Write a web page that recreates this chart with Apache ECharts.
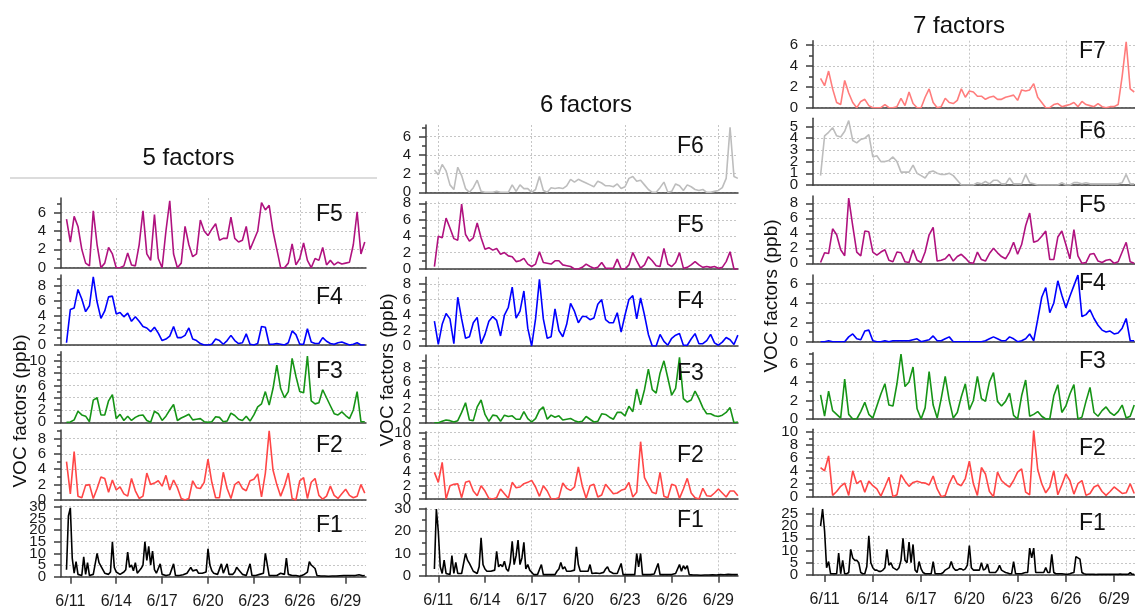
<!DOCTYPE html>
<html><head><meta charset="utf-8">
<script src="https://cdn.jsdelivr.net/npm/echarts@6/dist/echarts.min.js"></script>
<style>html,body{margin:0;padding:0;background:#fff}#c{width:1135px;height:612px}</style>
</head><body><div id="c"></div>
<script>
// ---------- data ----------
// time axis: days since 6/11 00:00; series start at 6/10 18:00
const seriesStartDay = -0.25;
const step6h = 0.25, step3h = 0.125;
const xTickDays = [0, 3, 6, 9, 12, 15, 18];
const xTickLabels = ['6/11', '6/14', '6/17', '6/20', '6/23', '6/26', '6/29'];
const colTitles = ['5 factors', '6 factors', '7 factors'];
const yAxisName = 'VOC factors (ppb)';

const ticksEven6 = [0, 2, 4, 6];
const ticksEven8 = [0, 2, 4, 6, 8];
const ticksEven10 = [0, 2, 4, 6, 8, 10];
const ticksUnit5 = [0, 1, 2, 3, 4, 5];
const ticksFive30 = [0, 5, 10, 15, 20, 25, 30];
const ticksFive25 = [0, 5, 10, 15, 20, 25];
const ticksTen30 = [0, 10, 20, 30];
const minorOdd = [1, 3, 5, 7, 9, 11];
const minorFives = [5, 15, 25];

// ---- 5 factors ----
const c1F5 = [5.3,2.8,5.6,4.5,2.0,0.5,0.2,6.2,2.5,0,
0.5,2.2,1.5,0,0,0.2,1.6,0.3,0.2,2.5,
6.2,1.5,0.8,5.8,1.0,0,4.0,7.3,1.5,0,
0.5,4.5,2.5,1.2,1.5,5.2,4.0,3.5,4.2,4.8,
3.0,3.2,3.2,5.5,3.2,2.8,3.0,4.5,2.0,3.0,
4.0,7.1,6.3,6.8,4.0,2.0,0,0,0.5,2.6,
0.3,1.0,2.7,0.8,0,1.0,0.8,2.2,0.3,0.8,
0.3,0.6,0.4,0.5,0.6,2.5,6.1,1.5,2.8];
const c1F4 = [0.3,4.8,5.0,7.5,6.2,4.5,5.3,9.2,5.8,3.6,
4.6,6.5,6.6,4.2,4.4,3.8,4.3,3.2,3.8,3.2,
2.5,2.3,1.8,2.4,1.6,0.6,0.8,1.2,2.5,1.0,
1.0,1.3,2.3,0.8,0.6,0.2,0,0,0.1,0.8,
0.6,0.1,0.6,1.3,0.6,0.2,0.3,1.5,0.1,0,
0.2,2.5,2.4,0.1,0.1,0.2,0.1,0,0.3,1.9,
1.4,0.1,0.1,2.2,0.4,0.2,0.2,1.0,0.5,0.2,
0.1,0.3,0.4,0.2,0,0.1,0.3,0,0];
const c1F3 = [0,0.05,0.4,1.8,1.2,1.0,0.1,3.6,4.0,1.2,
1.2,3.5,4.5,0.6,1.3,0.3,1.0,0.3,0.8,1.1,
1.2,0.3,0,1.8,1.4,0.3,1.0,2.0,2.9,0.3,
0.7,1.0,1.3,0.4,0.5,0.6,0.1,0,0.1,0.9,
0.8,0.1,0.2,1.5,1.1,0.5,0.3,1.0,0.2,1.2,
2.5,3.0,5.0,2.8,5.5,9.3,5.5,4.0,5.0,10.4,
7.5,5.0,4.8,10.8,3.5,3.0,3.2,5.3,4.0,2.7,
1.4,1.2,1.7,1.1,0.6,2.0,5.0,0.1,0.1];
const c1F2 = [5.0,0.8,6.3,0.5,0.3,1.9,2.0,0.2,1.5,3.0,
2.8,1.0,2.6,1.3,1.7,0.8,0.5,2.8,1.2,0.2,
0.5,3.5,2.0,2.2,2.5,1.8,3.2,1.3,2.6,1.6,
0.2,0,0.2,2.5,1.6,1.5,2.3,5.3,2.3,0.3,
0.3,3.6,1.5,0.2,2.0,2.4,1.5,1.2,2.5,2.7,
3.4,0.4,3.5,9.0,3.9,2.0,0.5,1.8,3.5,0.2,
0,2.5,2.9,0.2,2.3,2.8,0.6,0.1,0.5,1.8,
0.6,0.2,0.8,1.4,0.6,0.3,0.5,2.0,0.9];
const c1F1 = [3,26,29.5,8,1.5,6.5,1,0.5,0.5,8.5,
1,6,0.5,0.5,1,1.5,10,6,6,3,
1.5,1,1,2,15,4,2,1.5,1,1.5,
2,3,10.5,4,5,2.5,6,1.5,2,3.5,
5,15,7,13,5,11,3,1.5,2,5.5,
1,0.5,0.5,0.5,0.8,0.5,5.5,0.5,0.5,0.5,
0.5,0.8,1,1.5,2,4,2.5,2,3,1.5,
1.5,1.5,1.5,2,12,5,2.5,1.5,1.2,1,
1.5,5.5,1.5,2,5.5,1,1,1,2,4,
3,2,1,0.8,0.5,0.5,5.5,0.5,0.5,0.5,
0.8,1,1,1.5,10,9.5,0.5,0.5,0.5,0.5,
0.5,0.8,1.5,1.2,1,8,1,0.5,0.5,0.5,
0.5,0.3,0.2,0.5,0.8,1,2,6.5,5,5,
3.5,0.5,0.3,0.3,0.2,0.3,0.3,0.2,0.3,0.3,
0.4,0.3,0.5,0.4,0.3,0.5,0.4,0.5,0.3,0.5,
0.6,0.5,0.4,0.8,0.5,0.4,0.5];

// ---- 6 factors ----
const c2F6 = [2.4,1.9,3.0,2.3,0.8,0.3,2.7,1.8,0.4,0,
0.5,1.3,0.1,0,0,0,0.1,0,0,0,
0.8,0.1,0.8,0.4,0.4,0,0.3,1.7,0.2,0,
0.5,0.4,0.5,0.4,0.7,1.4,1.1,1.4,1.2,1.0,
0.8,0.6,1.2,1.0,0.7,0.7,0.6,0.9,0.4,0.6,
1.5,1.7,1.2,1.3,0.8,0.3,0,0,0.5,1.1,
0,0.1,0.9,0.7,0.2,0.8,0.6,0.3,0.2,0.3,
0,0,0.1,0.2,0.5,1.5,7.0,1.7,1.5];
const c2F5 = [0.3,4.0,3.8,6.2,5.0,3.7,3.5,7.9,4.2,3.4,
3.8,5.6,3.8,2.4,2.6,2.3,2.5,1.8,2.0,1.6,
1.5,0.9,1.0,1.3,0.6,0.3,0.6,2.1,0.8,0.7,
0.6,1.0,1.0,0.5,0.4,0.3,0,0,0.2,0.6,
0.3,0.1,0.2,0.8,0.1,0.1,0.1,1.2,0,0,
0.5,2.0,1.0,0.1,0.5,1.5,1.0,0.4,0.3,2.5,
0.6,0.3,0.8,2.0,0.1,0.2,0.5,0.9,0.5,0.2,
0.3,0.2,0.3,0.1,0.2,0.9,2.1,0,0];
const c2F4 = [3.2,0.2,2.8,4.2,3.5,0.3,6.3,3.5,1.0,1.2,
3.0,3.7,0.3,1.5,3.2,3.8,3.3,1.3,4.0,5.0,
7.6,3.6,4.5,7.1,2.3,0,3.5,8.6,3.5,1.0,
1.2,4.8,2.0,1.2,2.8,5.5,4.5,3.0,3.8,3.8,
3.4,3.6,5.4,6.0,3.4,3.0,3.0,4.3,1.8,4.0,
6.0,6.5,3.5,6.2,4.0,1.5,0,0,1.5,0.6,
0.1,1.0,1.4,1.6,0.1,0.1,0.9,1.6,0.3,0.3,
0.7,1.5,0.4,0.1,0.5,1.1,0.8,0.2,1.4];
const c2F3 = [0,0,0.2,0.4,0.3,0.1,0.3,1.5,2.9,0.4,
0.3,2.3,3.3,1.2,0.2,1.1,1.0,0.2,1.1,0.9,
1.0,0.5,0.5,1.6,0.6,0.1,0.6,1.8,2.3,0.5,
1.1,0.8,1.0,0.4,0.5,0.6,0.3,0.1,0.2,0.9,
0.5,0.1,0.2,1.3,1.2,0.8,0.5,1.5,1.5,1.0,
2.4,1.6,4.9,2.6,4.8,7.8,4.8,4.3,7.2,9.0,
6.5,4.0,5.0,9.5,3.5,3.0,3.3,4.6,3.5,2.2,
1.3,1.3,1.0,0.9,1.1,1.5,2.2,0,0.1];
const c2F2 = [4.0,2.5,5.5,0,2.0,2.2,2.3,0.2,2.5,2.7,
1.2,0.5,2.0,1.2,0.1,0,0.2,1.5,0.8,0.1,
2.5,1.7,1.8,2.3,2.5,2.8,1.8,0.4,2.0,1.2,
0,0,0.2,2.4,1.6,1.3,1.8,4.8,2.0,0.1,
2.0,2.2,0.3,0.6,2.2,1.5,0.8,0.9,1.3,1.5,
2.5,0.3,1.0,8.6,3.2,2.1,1.0,0.8,4.0,0.4,
0.2,2.2,2.0,0.1,1.5,3.1,0.9,0.2,0,1.6,
0.5,0.4,0.9,1.5,0.9,0.3,1.2,1.2,0.5];
const c2F1 = [3,30,20,4,1,7,1,0.5,0.5,9,
1,6,1,1,1,1.5,10,7,5.5,6,
2,1.5,1,4,17,5,3,2,2,2,
2,2.5,11,4,5,4,6.5,3,2,6,
15.5,5,9,16,5,8,15,3,5,2.5,
2,0.5,0.5,0.5,0.5,5,0.5,0.5,0.5,0.5,
0.5,0.5,0.5,2,3,6,3,4,2,2,
2,2.5,2.5,13,5,2,2,2,1.5,2,
5,1,1.5,1.2,1,1,1,1.5,3,4,
2,1.5,1,1,1,1,5.5,0.5,0.5,0.5,
0.5,0.5,0.5,0.5,10,4,10,0.5,0.5,0.5,
0.5,0.5,0.5,0.8,1,5.5,0.5,0.5,0.5,0.5,
0.5,0.5,0.5,0.8,1,1,5,2,4.5,3,
4.5,0.5,0.3,0.3,0.2,0.3,0.3,0.2,0.3,0.3,
0.2,0.3,0.3,0.4,0.3,0.3,0.4,0.5,0.3,0.4,
0.5,0.6,0.8,0.5,0.4,0.5,0.5];

// ---- 7 factors ----
const c3F7 = [2.8,2.1,3.5,1.8,0.5,0.3,2.6,1.4,0.5,0,
0.6,0.8,0.2,0,0,0,0.3,0,0,0.1,
0.9,0.2,1.5,0.4,0,0,1.0,1.8,0.5,0,
0.1,0.9,0.5,0.4,0.7,1.8,1.0,1.6,1.5,1.1,
1.1,0.8,1.0,1.1,0.8,0.8,1.0,1.1,1.2,0.7,
1.7,1.6,1.7,2.3,1.0,0.5,0,0,0.3,0.4,
0.1,0.2,0.3,0.5,0.1,0.6,0.3,0.2,0.1,0.4,
0.1,0,0.1,0.1,0.3,3.0,6.3,1.8,1.5];
const c3F6 = [0.8,4.2,4.5,4.9,4.2,4.1,4.6,5.5,3.8,3.6,
3.9,4.0,4.3,2.4,2.5,2.0,2.0,2.1,2.4,2.0,
1.1,1.1,1.1,1.7,1.0,0.8,0.6,1.1,1.2,1.0,
0.9,0.9,1.0,0.8,0.4,0,0,0,0,0.2,
0.1,0.3,0.1,0.4,0.4,0.1,0.1,0.6,0.1,0.1,
0.1,0.9,0.2,0.1,0,0,0,0,0,0,
0.2,0,0,0.2,0.2,0.1,0.2,0.1,0.1,0.1,
0.1,0.1,0.1,0.1,0.1,0.2,0.9,0.1,0.1];
const c3F5 = [0.1,1.4,1.3,4.6,3.8,1.8,1.0,8.7,5.0,1.5,
1.0,4.3,4.2,1.5,1.1,1.5,1.8,0.4,0.2,1.5,
1.4,0.2,0.1,1.8,0.4,0.1,1.5,3.8,4.8,0.3,
0.4,0.6,1.2,0.3,0.9,1.2,0.7,0.1,0,1.5,
0.5,0.3,1.3,2.0,1.4,0.9,0.6,1.5,2.8,1.2,
2.5,5.0,6.7,2.8,3.0,3.6,4.3,0.5,0.5,3.5,
4.3,2.5,0.6,4.5,1.0,0,0.1,1.2,1.3,0.3,
0.1,0.4,0.5,0,0.2,1.5,2.8,0.2,0];
const c3F4 = [0,0,0.1,0,0,0,0,0.5,0.8,0.3,
0.2,1.1,1.2,0.1,0,0,0.1,0,0.1,0.1,
0.1,0.1,0.1,0.2,0.3,0,0.1,0.2,0.6,0.1,
0.1,0.3,0.5,0,0,0,0,0,0,0,
0,0.1,0.3,0.5,0.3,0.1,0.1,0.5,0.3,0,
0.1,0.3,0.8,0.1,2.3,4.6,5.6,3.0,4.0,6.3,
4.8,3.5,4.7,5.8,6.9,2.6,2.8,3.3,2.4,1.7,
1.2,1.0,1.1,0.8,0.9,1.4,2.4,0.1,0.1];
const c3F3 = [2.6,0.3,3.0,0.9,0.5,0.1,4.3,0.5,0,0,
0.8,1.8,0.5,0.1,1.4,2.7,3.8,1.5,1.4,3.8,
7.0,3.5,4.0,5.6,1.1,0,1.2,5.1,1.5,0.1,
2.2,4.6,2.0,0.1,0.7,2.4,3.8,1.0,2.0,4.6,
2.2,1.9,4.0,5.0,1.9,1.4,1.9,2.8,0.4,0,
2.5,4.2,0.3,0.5,0.8,0.3,0,0,2.5,3.7,
0.7,1.4,2.7,3.7,0,0.2,1.9,3.4,0.7,0.3,
0.9,1.3,0.7,0.4,0.8,1.5,0.1,0.3,1.5];
const c3F2 = [4.5,4.0,6.3,0.2,0.8,1.6,2.1,0.2,4.0,2.0,
2.5,0.7,2.4,1.7,1.2,0.1,1.5,3.0,0,0.3,
3.4,2.4,1.6,2.2,2.4,2.2,2.1,1.8,3.2,1.2,
0,0.2,2.0,3.3,2.0,1.7,2.8,5.5,2.0,0.2,
4.5,3.5,0.8,0,3.8,2.5,1.9,1.5,2.5,3.8,
4.3,0.7,0.3,10.2,4.2,2.0,0.6,1.5,4.0,0.3,
1.8,3.5,2.5,0.4,2.0,2.5,0.2,0.5,1.5,1.8,
0.8,0.2,0.8,1.5,1.0,0.5,0.6,2.0,0.5];
const c3F1 = [20,27,18,3,5.5,0.5,0.5,0.5,0.5,9,
0.5,6,0.5,0.5,1,10.5,7,6,6,5,
1,0.5,0.5,3.5,16,5,3,2,2,1.5,
1.5,2,3,10.5,4,5,3,2.5,2,3,
6,15,6,5,13.5,5,12.5,2,1,5.5,
2.5,1,0.5,0.5,0.5,0.5,5.5,0.5,0.5,0.5,
0.5,1,2,2.5,3,5.5,3,2,2,2.5,
2.5,2,2.5,4,12,3,2,2,2,2,
5,2,2.5,4.5,1,1,1,1,2,4,
2,1.5,1,0.8,0.5,0.5,5.5,0.5,0.5,0.5,
0.5,0.8,1,1,11,7,11,1,1,1,
1,1,3,1,1,8.5,1,0.5,0.5,0.5,
0.5,0.4,0.3,0.3,0.5,0.8,1,7.5,7,6.5,
1,0.5,0.3,0.3,0.3,0.3,0.3,0.2,0.3,0.3,
0.3,0.3,0.3,0.3,0.3,0.3,0.3,0.3,0.3,0.4,
0.3,0.3,0.3,0.3,1,0.3,0.3];

// ---------- layout & style ----------
const FONT = "'Liberation Sans', Arial, Helvetica, sans-serif";
const AXIS_C = '#3c3c3c';
const GRID_C = '#c6c6c6';
const COLORS = {F1:'#000000', F2:'#ff4646', F3:'#169416', F4:'#0000ff', F5:'#b0127f', F6:'#bdbdbd', F7:'#ff7c7c'};

const layout = [
  {title: colTitles[0], tx: 188.5, ty: 158, left: 61, width: 305, xmin: -0.61, xmax: 19.33, vgrid: [3, 9, 15], voc: [21, 411], lx: 316,
   panels: [
    {f:'F5', data:c1F5, step:step6h, top:198,   bot:267.7, max:7.6,  major:ticksEven6,  minor:minorOdd, ly:206},
    {f:'F4', data:c1F4, step:step6h, top:275,   bot:345,   max:9.45, major:ticksEven8,  minor:minorOdd, ly:289},
    {f:'F3', data:c1F3, step:step6h, top:351.7, bot:422.3, max:11.5, major:ticksEven10, minor:minorOdd, ly:363},
    {f:'F2', data:c1F2, step:step6h, top:430,   bot:500,   max:9.1,  major:ticksEven8,  minor:minorOdd, ly:437},
    {f:'F1', data:c1F1, step:step3h, top:506,   bot:576.7, max:30.3, major:ticksFive30, minor:[],       ly:517}
   ]},
  {title: colTitles[1], tx: 586, ty: 105, left: 426, width: 312, xmin: -0.79, xmax: 19.26, vgrid: [0, 6, 12, 18], voc: [388, 370], lx: 677,
   panels: [
    {f:'F6', data:c2F6, step:step6h, top:125,   bot:192.3, max:7.25, major:ticksEven6,  minor:minorOdd, ly:138},
    {f:'F5', data:c2F5, step:step6h, top:201.7, bot:269,   max:8.2,  major:ticksEven8,  minor:minorOdd, ly:217},
    {f:'F4', data:c2F4, step:step6h, top:277.3, bot:346,   max:8.87, major:ticksEven8,  minor:minorOdd, ly:293},
    {f:'F3', data:c2F3, step:step6h, top:355,   bot:422.7, max:9.85, major:ticksEven8,  minor:minorOdd, ly:365},
    {f:'F2', data:c2F2, step:step6h, top:431.7, bot:499,   max:10.1, major:ticksEven10, minor:minorOdd, ly:447},
    {f:'F1', data:c2F1, step:step3h, top:508.3, bot:575.7, max:30.3, major:ticksTen30,  minor:minorFives, ly:512}
   ]},
  {title: colTitles[2], tx: 959, ty: 26, left: 813, width: 323, xmin: -0.72, xmax: 19.36, vgrid: [3, 9, 15], voc: [772, 296], lx: 1079,
   panels: [
    {f:'F7', data:c3F7, step:step6h, top:40.7,  bot:107.7, max:6.4,  major:ticksEven6,  minor:minorOdd, ly:43},
    {f:'F6', data:c3F6, step:step6h, top:118.3, bot:185,   max:5.7,  major:ticksUnit5,  minor:[],       ly:123},
    {f:'F5', data:c3F5, step:step6h, top:196,   bot:263.3, max:8.97, major:ticksEven8,  minor:minorOdd, ly:197},
    {f:'F4', data:c3F4, step:step6h, top:275,   bot:341.7, max:6.9,  major:ticksEven6,  minor:minorOdd, ly:275},
    {f:'F3', data:c3F3, step:step6h, top:352.7, bot:419,   max:7.15, major:ticksEven6,  minor:minorOdd, ly:353},
    {f:'F2', data:c3F2, step:step6h, top:429.3, bot:496.7, max:10.4, major:ticksEven10, minor:minorOdd, ly:440},
    {f:'F1', data:c3F1, step:step3h, top:508.3, bot:575,   max:27.3, major:ticksFive25, minor:[],       ly:515}
   ]}
];

// ---------- build ----------
const grids = [], xAxes = [], yAxes = [], series = [], graphics = [];
const axisLineStyle = {color: AXIS_C, width: 1.5};
const yLabelStyle = {margin: 15, fontSize: 15, fontFamily: FONT, color:'#1a1a1a', hideOverlap: false, showMinLabel: true, showMaxLabel: true};

layout.forEach(col => {
  graphics.push({type:'text', x: col.tx, y: col.ty, z: 100,
    style:{text: col.title, fill:'#111', font: '24px ' + FONT, textAlign:'center', textVerticalAlign:'middle'}});
  graphics.push({type:'text', x: col.voc[0], y: col.voc[1], rotation: Math.PI / 2, z: 100,
    style:{text: yAxisName, fill:'#111', font: '19px ' + FONT, textAlign:'center', textVerticalAlign:'middle'}});
  col.panels.forEach((p, k) => {
    const gi = grids.length;
    grids.push({left: col.left, top: p.top, width: col.width, height: p.bot - p.top, containLabel: false, outerBoundsMode: 'none'});
    const xi = xAxes.length;
    xAxes.push({type:'value', gridIndex: gi, min: col.xmin, max: col.xmax, position:'bottom',
      axisLine:{show:true, onZero:false, lineStyle: axisLineStyle},
      axisTick:{show:false, customValues: col.vgrid},
      axisLabel:{show:false, customValues: col.vgrid},
      splitLine:{show:true, lineStyle:{color: GRID_C, width: 1, type: [2, 2]}}});
    if (k === col.panels.length - 1) {
      xAxes.push({type:'value', gridIndex: gi, min: col.xmin, max: col.xmax, position:'bottom',
        axisLine:{show:false, onZero:false},
        axisTick:{show:true, inside:false, length: 7, customValues: xTickDays, lineStyle: axisLineStyle},
        axisLabel:{show:true, customValues: xTickDays, margin: 17, fontSize: 16, fontFamily: FONT, color:'#1a1a1a',
          hideOverlap: false, showMinLabel: true, showMaxLabel: true,
          formatter: v => xTickLabels[xTickDays.indexOf(v)] || ''},
        splitLine:{show:false}});
    }
    // labels are split over two axes so that the library does not drop the overlapping ones
    const labA = p.major.filter((v, i) => i % 2 === 0);
    const labB = p.major.filter((v, i) => i % 2 === 1);
    const yi = yAxes.length;
    yAxes.push({type:'value', gridIndex: gi, min: 0, max: p.max, position:'left',
      axisLine:{show:true, onZero:false, lineStyle: axisLineStyle},
      axisTick:{show:true, inside:false, length: 7, customValues: p.major, lineStyle: axisLineStyle},
      axisLabel:Object.assign({show:true, customValues: labA}, yLabelStyle),
      splitLine:{show:true, lineStyle:{color: GRID_C, width: 1, type: [2, 2]}}});
    yAxes.push({type:'value', gridIndex: gi, min: 0, max: p.max, position:'left',
      axisLine:{show:false, onZero:false},
      axisTick:{show:false, customValues: labB},
      axisLabel:Object.assign({show:true, customValues: labB}, yLabelStyle),
      splitLine:{show:false}});
    const minors = p.minor.filter(v => v < p.max);
    yAxes.push({type:'value', gridIndex: gi, min: 0, max: p.max, position:'left',
      axisLine:{show:false, onZero:false},
      axisTick:{show: minors.length > 0, inside:false, length: 4, customValues: minors.length ? minors : [0], lineStyle: axisLineStyle},
      axisLabel:{show:false},
      splitLine:{show:false}});
    series.push({type:'line', xAxisIndex: xi, yAxisIndex: yi, silent: true, animation: false,
      showSymbol: false, symbol: 'none', clip: true, z: 3,
      lineStyle:{color: COLORS[p.f], width: 1.6}, itemStyle:{color: COLORS[p.f]},
      data: p.data.map((v, i) => [seriesStartDay + i * p.step, v])});
    graphics.push({type:'text', x: col.lx, y: p.ly - 3, z: 100,
      style:{text: p.f, fill:'#111', font: '23px ' + FONT, textAlign:'left', textVerticalAlign:'top'}});
  });
});

graphics.push({type:'line', shape:{x1: 10, y1: 178, x2: 377, y2: 178}, style:{stroke:'#dcdcdc', lineWidth: 2}, z: 100});

const chart = echarts.init(document.getElementById('c'), null, {renderer:'canvas'});
chart.setOption({
  backgroundColor: '#ffffff',
  animation: false,
  grid: grids, xAxis: xAxes, yAxis: yAxes, series: series,
  graphic: {elements: graphics}
});
</script>
</body></html>
